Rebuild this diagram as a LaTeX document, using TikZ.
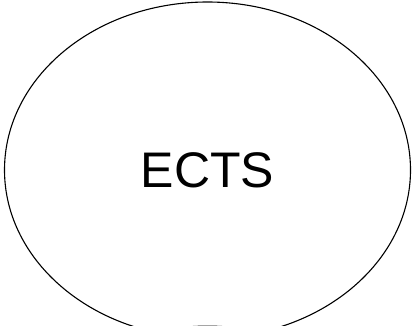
\documentclass[tikz,border=0pt]{standalone}
\usepackage{fontspec}
\setmainfont{Liberation Sans}
\usetikzlibrary{positioning,shapes.geometric}

\begin{document}
\begin{tikzpicture}[x=1pt, y=1pt,
    blob/.style={draw, ellipse, line width=1.1pt, inner sep=0pt,
                 minimum width=406pt, minimum height=336pt,
                 font=\fontsize{50}{60}\selectfont}]
  \useasboundingbox (0,0) rectangle (414,325);
  \node (ects) [blob] at (207.5,155) {ECTS};
  \node (next) [blob, below=-13pt of ects] {};
\end{tikzpicture}
\end{document}
